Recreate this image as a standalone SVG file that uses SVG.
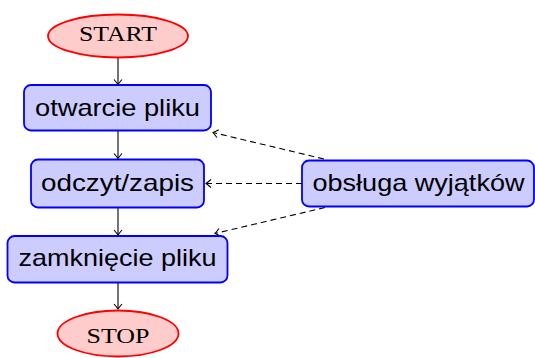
<svg xmlns="http://www.w3.org/2000/svg" width="535" height="358" viewBox="0 0 535 358">
<defs>
<style>
.box{fill:#ccccff;stroke:#0000ff;stroke-width:1.8}
.ell{fill:#ffcccc;stroke:#ff0000;stroke-width:1.8}
.t{font-family:"Liberation Sans","DejaVu Sans",sans-serif;font-size:24px;fill:#000;text-anchor:middle}
.s{font-family:"Liberation Serif","DejaVu Serif",serif;font-size:21px;fill:#000;text-anchor:middle}
.c{fill:none;stroke:#000;stroke-width:1.1}
.d{stroke-dasharray:6 4}
</style>
<marker id="ah" viewBox="-6 -5 8 10" refX="0" refY="0" markerWidth="8" markerHeight="10" markerUnits="userSpaceOnUse" orient="auto">
<path d="M-5,-4 Q-1.5,-1 0,0 Q-1.5,1 -5,4" fill="none" stroke="#000" stroke-width="1.1"/>
</marker>
</defs>
<g id="connectors">
<line class="c" x1="118" y1="58" x2="118" y2="84.5" marker-end="url(#ah)"/>
<line class="c" x1="118" y1="131" x2="118" y2="158.5" marker-end="url(#ah)"/>
<line class="c" x1="118" y1="208" x2="118" y2="235" marker-end="url(#ah)"/>
<line class="c" x1="118" y1="283" x2="118" y2="309" marker-end="url(#ah)"/>
<line class="c d" x1="324" y1="159" x2="213" y2="132.5" marker-end="url(#ah)"/>
<line class="c d" x1="302" y1="183.5" x2="206" y2="183.5" marker-end="url(#ah)"/>
<line class="c d" x1="325" y1="207.5" x2="215" y2="233.5" marker-end="url(#ah)"/>
</g>
<g id="start">
<ellipse class="ell" cx="118" cy="36" rx="70" ry="21.5"/>
<text class="s" x="118" y="40.5" textLength="78" lengthAdjust="spacingAndGlyphs">START</text>
</g>
<g id="otwarcie">
<rect class="box" x="24" y="85" width="187" height="45.5" rx="7"/>
<text class="t" x="117.5" y="115.5" textLength="165" lengthAdjust="spacingAndGlyphs">otwarcie pliku</text>
</g>
<g id="odczyt">
<rect class="box" x="31" y="159.5" width="173" height="48" rx="7"/>
<text class="t" x="117.5" y="191" textLength="153" lengthAdjust="spacingAndGlyphs">odczyt/zapis</text>
</g>
<g id="zamkniecie">
<rect class="box" x="7.5" y="236" width="220" height="46.5" rx="7"/>
<text class="t" x="117.5" y="266" textLength="198" lengthAdjust="spacingAndGlyphs">zamknięcie pliku</text>
</g>
<g id="stop">
<ellipse class="ell" cx="118" cy="333.5" rx="60.5" ry="23"/>
<text class="s" x="118" y="343" textLength="63" lengthAdjust="spacingAndGlyphs">STOP</text>
</g>
<g id="obsluga">
<rect class="box" x="302" y="160.5" width="232" height="46" rx="7"/>
<text class="t" x="418.5" y="191" textLength="212" lengthAdjust="spacingAndGlyphs">obsługa wyjątków</text>
</g>
</svg>
